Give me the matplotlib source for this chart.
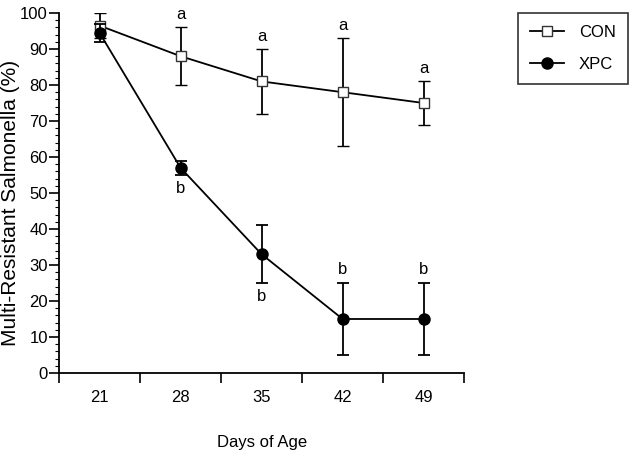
import matplotlib
matplotlib.use("Agg")
import matplotlib.pyplot as plt
from matplotlib.lines import Line2D
import numpy as np

plt.rcParams['font.family'] = ['Liberation Sans', 'DejaVu Sans']

days = ["21", "28", "35", "42", "49"]
con_mean = [96.5, 88, 81, 78, 75]
con_err = [3.5, 8, 9, 15, 6]
xpc_mean = [94.5, 57, 33, 15, 15]
xpc_err = [2.5, 2, 8, 10, 10]
con_letters = ["", "a", "a", "a", "a"]
xpc_letters = ["", "b", "b", "b", "b"]
xpc_letter_above = [False, False, False, True, True]

fig = plt.figure(figsize=(6.3, 4.58), dpi=100)
ax = fig.add_axes([0.0937, 0.1856, 0.643, 0.786])

x = np.arange(len(days))
con_style = dict(color='black', lw=1.3, marker='s', ms=7.5, mfc='white',
                 mec='#333333', mew=1.0)
xpc_style = dict(color='black', lw=1.3, marker='o', ms=8, mfc='black', mec='black')
ax.errorbar(x, con_mean, yerr=con_err, capsize=4.5, capthick=1.3,
            elinewidth=1.3, zorder=3, **con_style)
ax.errorbar(x, xpc_mean, yerr=xpc_err, capsize=4.5, capthick=1.3,
            elinewidth=1.3, zorder=4, **xpc_style)

for i, lab in enumerate(con_letters):
    if lab:
        ax.annotate(lab, (x[i], con_mean[i] + con_err[i]), xytext=(0, 9),
                    textcoords='offset points', ha='center', va='center', fontsize=12)
for i, lab in enumerate(xpc_letters):
    if lab:
        if xpc_letter_above[i]:
            ax.annotate(lab, (x[i], xpc_mean[i] + xpc_err[i]), xytext=(0, 9.5),
                        textcoords='offset points', ha='center', va='center', fontsize=12)
        else:
            ax.annotate(lab, (x[i], xpc_mean[i] - xpc_err[i]), xytext=(0, -10),
                        textcoords='offset points', ha='center', va='center', fontsize=12)

ax.set_xlim(-0.5, len(days) - 0.5)
ax.set_ylim(0, 100)
ax.set_xticks(x)
ax.set_xticklabels(days, fontsize=12)
ax.set_xticks(np.arange(len(days) + 1) - 0.5, minor=True)
ax.tick_params(axis='x', which='major', length=0, pad=12)
ax.tick_params(axis='x', which='minor', length=7, width=1.2, direction='out')
ax.set_yticks(np.arange(0, 101, 10))
ax.set_yticks(np.arange(0, 101, 2), minor=True)
ax.tick_params(axis='y', which='major', length=7, width=1.2, labelsize=12, pad=1)
ax.tick_params(axis='y', which='minor', length=3, width=0.8)

for s in ['top', 'right']:
    ax.spines[s].set_visible(False)
for s in ['left', 'bottom']:
    ax.spines[s].set_linewidth(1.3)

ax.set_xlabel("Days of Age", fontsize=12, labelpad=22)
ax.set_ylabel("Multi-Resistant Salmonella (%)", fontsize=15)
ax.yaxis.set_label_coords(-0.097, 0.472)

handles = [Line2D([], [], label='CON', **con_style),
           Line2D([], [], label='XPC', **xpc_style)]
leg = fig.legend(handles=handles, loc='upper right', bbox_to_anchor=(0.997, 0.972),
                 bbox_transform=fig.transFigure, borderaxespad=0, fontsize=12,
                 frameon=True, fancybox=False, edgecolor='black',
                 handlelength=2.0, handletextpad=0.9, labelspacing=1.0,
                 borderpad=0.75)
leg.get_frame().set_linewidth(1.2)

fig.savefig("out.png", dpi=100)
